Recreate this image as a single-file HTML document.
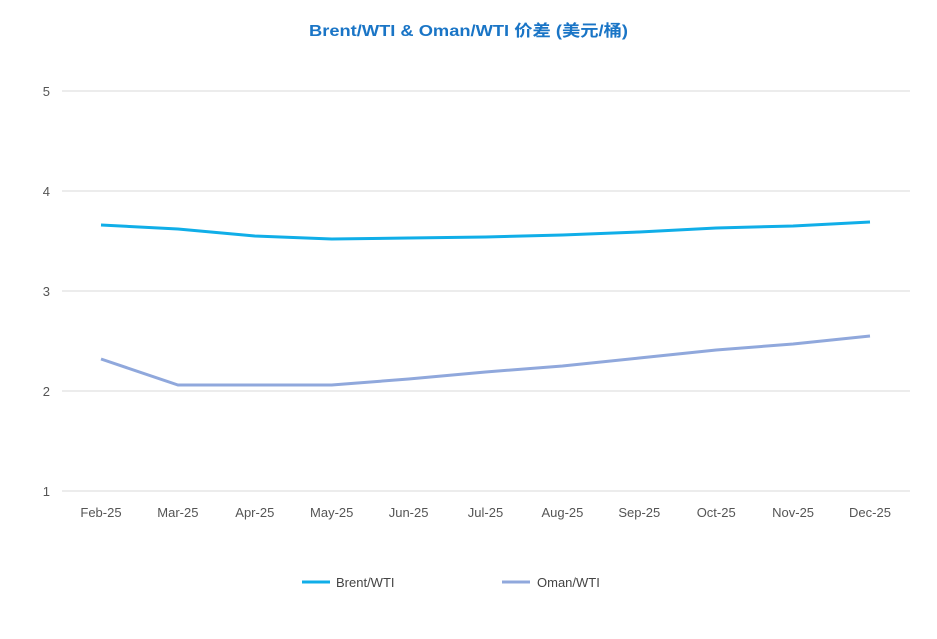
<!DOCTYPE html>
<html><head><meta charset="utf-8"><style>
body{margin:0;background:#fff;}
svg text{font-family:"Liberation Sans","Noto Sans CJK SC",sans-serif;}
</style></head><body>
<svg id="chart" width="937" height="634">
<text x="468.5" y="36" text-anchor="middle" font-size="16" font-weight="bold" fill="#1a75c6" textLength="319" lengthAdjust="spacingAndGlyphs">Brent/WTI &amp; Oman/WTI 价差 (美元/桶)</text>
<g id="grid"></g><g id="series"></g>
<g>
<line x1="302" y1="582" x2="330" y2="582" stroke="#10aee8" stroke-width="3"/>
<text x="336" y="587" font-size="13" fill="#444">Brent/WTI</text>
<line x1="502" y1="582" x2="530" y2="582" stroke="#90a8dc" stroke-width="3"/>
<text x="537" y="587" font-size="13" fill="#444">Oman/WTI</text>
</g>
</svg>
<script>
const categories=["Feb-25","Mar-25","Apr-25","May-25","Jun-25","Jul-25","Aug-25","Sep-25","Oct-25","Nov-25","Dec-25"];
const brent=[3.66,3.62,3.55,3.52,3.53,3.54,3.56,3.59,3.63,3.65,3.69];
const oman=[2.32,2.06,2.06,2.06,2.12,2.19,2.25,2.33,2.41,2.47,2.55];
const yTicks=[1,2,3,4,5];
const NS="http://www.w3.org/2000/svg";
function x(i){return 101+i*(870-101)/(categories.length-1);}
function y(v){return 491-(v-1)*100;}
const grid=document.getElementById('grid'),ser=document.getElementById('series');
function mk(tag,attrs,parent){const e=document.createElementNS(NS,tag);for(const k in attrs)e.setAttribute(k,attrs[k]);parent.appendChild(e);return e;}
yTicks.forEach(t=>{
 const l=mk('line',{x1:62,x2:910,y1:y(t),y2:y(t),stroke:'#d9d9d9','stroke-width':1},grid);
 
 
 const tx=mk('text',{x:50,y:y(t)+5,'text-anchor':'end','font-size':13,fill:'#555'},grid);
 tx.textContent=t;
 
 
});
categories.forEach((c,i)=>{
 const tx=mk('text',{x:x(i),y:517,'text-anchor':'middle','font-size':13,fill:'#555'},grid);
 tx.textContent=c;
 
 
});
function line(data,color,name){
 const p=mk('polyline',{points:data.map((v,i)=>x(i)+','+y(v)).join(' '),fill:'none',stroke:color,'stroke-width':3,'stroke-linejoin':'round'},ser);
 
 
}
line(brent,'#10aee8','brent-wti-line');
line(oman,'#90a8dc','oman-wti-line');
</script>
</body></html>
